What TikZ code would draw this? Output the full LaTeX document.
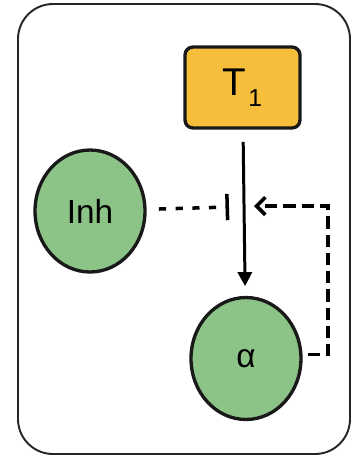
\documentclass[tikz,border=0pt]{standalone}
\usepackage{fontspec}
\setmainfont{Liberation Sans}
\usetikzlibrary{shapes.geometric,arrows.meta}
\definecolor{cellgreen}{RGB}{140,196,135}
\definecolor{tfyellow}{RGB}{246,190,58}
\begin{document}
\begin{tikzpicture}[x=0.02cm, y=-0.02cm,
  species/.style={ellipse, draw=black!90, line width=1.9pt, fill=cellgreen,
    minimum width=2.2cm, minimum height=2.44cm, inner sep=0pt,
    font=\fontsize{19}{22}\selectfont},
  tfbox/.style={rectangle, rounded corners=0.16cm, draw=black!90, line width=1.9pt,
    fill=tfyellow, minimum width=2.3cm, minimum height=1.62cm,
    font=\fontsize{22}{26}\selectfont}]
\useasboundingbox (0,0) rectangle (357,458);
\draw[line width=1.1pt, black!85, rounded corners=0.7cm] (18,4) rectangle (350,454);
\node (t1)[tfbox] at (242.5,87.5) {T\kern1pt\raisebox{-6pt}{\fontsize{14}{14}\selectfont 1}\hspace{6pt}};
\node (inh)[species] at (90,211) {Inh};
\node (alpha)[species] at (246,358.5) {α};
\coordinate (inhbar) at (229,207);
\coordinate (fbin) at (254,206);
\coordinate (fbout) at (328,206);
\draw[-{Triangle[width=8pt,length=8pt]}, line width=1.7pt, shorten <=7pt, shorten >=5.5pt] (t1) -- (alpha);
\draw[-{Bar[width=15pt]}, line width=2pt, dash pattern=on 4.1pt off 5.4pt, shorten <=7pt] (inh) -- (inhbar);
\draw[-{Straight Barb[width=10pt,length=5pt]}, line width=2.1pt, dash pattern=on 7pt off 3.4pt, shorten <=3pt]
  (alpha.4) -| (fbout) -- (fbin);
\end{tikzpicture}
\end{document}
